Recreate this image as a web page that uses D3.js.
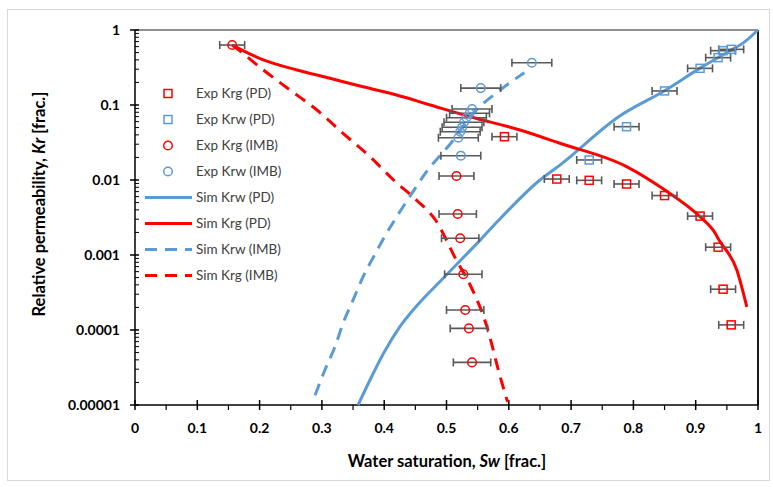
<!DOCTYPE html>
<html><head><meta charset="utf-8">
<script src="https://cdn.jsdelivr.net/npm/d3@7"></script>
<style>
body{margin:0;background:#fff;}
text{font-family:Lato,"Open Sans","Liberation Sans",sans-serif;}
</style></head>
<body>
<svg id="c" width="773" height="487"></svg>
<script>
// ---- data ----
const xTickValues = [0,0.1,0.2,0.3,0.4,0.5,0.6,0.7,0.8,0.9,1];
const xTickLabels = ["0","0.1","0.2","0.3","0.4","0.5","0.6","0.7","0.8","0.9","1"];
const yTickValues = [1,0.1,0.01,0.001,0.0001,0.00001];
const yTickLabels = ["1","0.1","0.01","0.001","0.0001","0.00001"];

const expKrgPD_sw = [0.593,0.677,0.729,0.789,0.850,0.907,0.936,0.944,0.957];
const expKrgPD_kr = [0.0378,0.0103,0.0099,0.00885,0.0062,0.0033,0.00127,0.00035,0.000117];
const expKrwPD_sw = [0.729,0.789,0.850,0.907,0.936,0.944,0.957];
const expKrwPD_kr = [0.0185,0.0514,0.154,0.308,0.428,0.53,0.552];
const expKrgIMB_sw = [0.156,0.516,0.518,0.522,0.527,0.530,0.536,0.541];
const expKrgIMB_kr = [0.63,0.0113,0.00352,0.00167,0.000553,0.000185,0.000105,0.000037];
const expKrgIMB_err = [0.02,0.028,0.03,0.03,0.03,0.03,0.03,0.03];
const expKrwIMB_sw = [0.523,0.519,0.522,0.525,0.528,0.532,0.537,0.541,0.555,0.637];
const expKrwIMB_kr = [0.0211,0.0366,0.044,0.0504,0.0588,0.0677,0.0775,0.0885,0.168,0.366];
const errPD = 0.02, errIMB = 0.032;

const simKrwPD_sw = [0.358,0.377,0.399,0.425,0.452,0.490,0.511,0.554,0.581,0.650,0.682,0.778,0.850,0.907,0.950,0.979,1.0];
const simKrwPD_kr = [1e-5,2.14e-5,4.9e-5,1.1e-4,2.09e-4,4.47e-4,6.76e-4,1.58e-3,2.75e-3,0.01,0.0158,0.0713,0.155,0.31,0.5,0.70,1.0];
const simKrgPD_sw = [0.156,0.206,0.260,0.313,0.366,0.420,0.474,0.538,0.618,0.682,0.789,0.850,0.907,0.928,0.939,0.966,0.982];
const simKrgPD_kr = [0.63,0.40,0.293,0.227,0.175,0.136,0.10,0.0698,0.0464,0.0309,0.0151,0.0074,0.00324,0.00214,0.00151,0.00063,0.000204];
const simKrwIMB_sw = [0.289,0.305,0.321,0.334,0.350,0.366,0.383,0.399,0.417,0.441,0.468,0.511,0.538,0.586,0.625];
const simKrwIMB_kr = [1.35e-5,2.95e-5,6.0e-5,1.23e-4,2.5e-4,5.1e-4,9.5e-4,1.66e-3,2.95e-3,6.0e-3,0.0129,0.0341,0.0698,0.158,0.27];
const simKrgIMB_sw = [0.156,0.163,0.206,0.249,0.292,0.334,0.377,0.415,0.452,0.482,0.516,0.538,0.565,0.586,0.598];
const simKrgIMB_kr = [0.63,0.57,0.293,0.158,0.0857,0.0419,0.0205,0.01,0.00537,0.00295,8.5e-4,3.98e-4,1.1e-4,2.4e-5,1.1e-5];

const legendLabels = ["Exp Krg (PD)","Exp Krw (PD)","Exp Krg (IMB)","Exp Krw (IMB)","Sim Krw (PD)","Sim Krg (PD)","Sim Krw (IMB)","Sim Krg (IMB)"];

// ---- chart ----
const RED = "#FF0000", BLUE = "#5B9BD5", ERR = "#595959", TXT = "#404040";
const svg = d3.select("#c");
const L = 135, R = 758, T = 30, B = 405;
const x = d3.scaleLinear().domain([0,1]).range([L,R]);
const y = d3.scaleLog().domain([1e-5,1]).range([B,T]);

// outer border
svg.append("rect").attr("x",7.5).attr("y",9.5).attr("width",762).attr("height",471)
  .attr("fill","#fff").attr("stroke","#d9d9d9").attr("stroke-width",1);

// plot frame top/right
svg.append("line").attr("x1",L).attr("x2",R).attr("y1",T).attr("y2",T).attr("stroke","#222").attr("stroke-width",1.2);
svg.append("line").attr("x1",R).attr("x2",R).attr("y1",T).attr("y2",B).attr("stroke","#000").attr("stroke-width",1.8);

// x axis
const gx = svg.append("g").attr("transform",`translate(0,${B})`);
gx.append("line").attr("x1",L).attr("x2",R).attr("stroke","#000").attr("stroke-width",1.5);
const xMinor = d3.range(0.05,1,0.1);
gx.selectAll(".xm").data(xMinor).join("line").attr("x1",d=>x(d)).attr("x2",d=>x(d)).attr("y1",0).attr("y2",5).attr("stroke","#000").attr("stroke-width",1.2);
gx.selectAll(".xM").data(xTickValues).join("line").attr("x1",d=>x(d)).attr("x2",d=>x(d)).attr("y1",-5).attr("y2",5).attr("stroke","#000").attr("stroke-width",1.5);
gx.selectAll(".xl").data(xTickValues).join("text").attr("x",d=>x(d)).attr("y",28)
  .attr("text-anchor","middle").attr("font-size",14).attr("font-weight","bold").attr("fill","#000")
  .text((d,i)=>xTickLabels[i]);

// y axis
const gy = svg.append("g");
gy.append("line").attr("x1",L).attr("x2",L).attr("y1",T).attr("y2",B).attr("stroke","#000").attr("stroke-width",1.5);
const yMinor = [];
for (let e=-5;e<0;e++) for (let k=2;k<=9;k++) yMinor.push(k*Math.pow(10,e));
gy.selectAll(".ym").data(yMinor).join("line").attr("x1",L).attr("x2",L+4).attr("y1",d=>y(d)).attr("y2",d=>y(d)).attr("stroke","#000").attr("stroke-width",1);
gy.selectAll(".yM").data(yTickValues).join("line").attr("x1",L-5).attr("x2",L+4).attr("y1",d=>y(d)).attr("y2",d=>y(d)).attr("stroke","#000").attr("stroke-width",1.5);
gy.selectAll(".yl").data(yTickValues).join("text").attr("x",L-15).attr("y",d=>y(d)+5)
  .attr("text-anchor","end").attr("font-size",14).attr("font-weight","bold").attr("fill","#000")
  .text((d,i)=>yTickLabels[i]);

// axis titles
const xt = svg.append("text").attr("x",447).attr("y",467).attr("text-anchor","middle")
  .attr("font-size",16.5).attr("font-weight","bold").attr("fill","#000");
xt.append("tspan").text("Water saturation, ");
xt.append("tspan").attr("font-style","italic").text("Sw");
xt.append("tspan").text(" [frac.]");
const yt = svg.append("text").attr("transform","translate(45,204) rotate(-90)").attr("text-anchor","middle")
  .attr("font-size",16.5).attr("font-weight","bold").attr("fill","#000");
yt.append("tspan").text("Relative permeability, ");
yt.append("tspan").attr("font-style","italic").text("Kr");
yt.append("tspan").text(" [frac.]");

// sim curves
const zip = (a,b)=>a.map((v,i)=>[v,b[i]]);
const line = d3.line().x(d=>x(d[0])).y(d=>y(d[1])).curve(d3.curveMonotoneX);
const curves = [
  {d:zip(simKrwPD_sw,simKrwPD_kr),c:BLUE,dash:null},
  {d:zip(simKrgPD_sw,simKrgPD_kr),c:RED,dash:null},
  {d:zip(simKrwIMB_sw,simKrwIMB_kr),c:BLUE,dash:"12,8"},
  {d:zip(simKrgIMB_sw,simKrgIMB_kr),c:RED,dash:"12,8"}
];
curves.forEach(cv=>{
  svg.append("path").attr("d",line(cv.d)).attr("fill","none").attr("stroke",cv.c)
    .attr("stroke-width",3).attr("stroke-dasharray",cv.dash).attr("stroke-linecap","butt");
});

// error bars + markers
function errbars(sw,kr,err){
  const g = svg.append("g").attr("stroke",ERR).attr("stroke-width",1.6).attr("fill","none");
  sw.forEach((s,i)=>{
    const e = Array.isArray(err)?err[i]:err;
    const yy = y(kr[i]), x0 = x(s-e), x1 = x(s+e);
    g.append("line").attr("x1",x0).attr("x2",x1).attr("y1",yy).attr("y2",yy);
    g.append("line").attr("x1",x0).attr("x2",x0).attr("y1",yy-4).attr("y2",yy+4);
    g.append("line").attr("x1",x1).attr("x2",x1).attr("y1",yy-4).attr("y2",yy+4);
  });
}
function squares(sw,kr,c){
  svg.append("g").selectAll("rect").data(zip(sw,kr)).join("rect")
    .attr("x",d=>x(d[0])-4).attr("y",d=>y(d[1])-4).attr("width",8).attr("height",8)
    .attr("fill","none").attr("stroke",c).attr("stroke-width",1.5);
}
function circles(sw,kr,c){
  svg.append("g").selectAll("circle").data(zip(sw,kr)).join("circle")
    .attr("cx",d=>x(d[0])).attr("cy",d=>y(d[1])).attr("r",4.3)
    .attr("fill","none").attr("stroke",c).attr("stroke-width",1.5);
}
errbars(expKrgPD_sw,expKrgPD_kr,errPD);
errbars(expKrwPD_sw,expKrwPD_kr,errPD);
errbars(expKrgIMB_sw,expKrgIMB_kr,expKrgIMB_err);
errbars(expKrwIMB_sw,expKrwIMB_kr,errIMB);
squares(expKrgPD_sw,expKrgPD_kr,RED);
squares(expKrwPD_sw,expKrwPD_kr,BLUE);
circles(expKrgIMB_sw,expKrgIMB_kr,RED);
circles(expKrwIMB_sw,expKrwIMB_kr,BLUE);

// legend
const lg = svg.append("g");
const rowY = i=>93.5+i*26;
legendLabels.forEach((lab,i)=>{
  const yy = rowY(i);
  if (i===0||i===1){
    lg.append("rect").attr("x",164).attr("y",yy-4).attr("width",8).attr("height",8)
      .attr("fill","none").attr("stroke",i===0?RED:BLUE).attr("stroke-width",1.5);
  } else if (i===2||i===3){
    lg.append("circle").attr("cx",168).attr("cy",yy).attr("r",4.3)
      .attr("fill","none").attr("stroke",i===2?RED:BLUE).attr("stroke-width",1.5);
  } else {
    const c = (i===4||i===6)?BLUE:RED;
    lg.append("line").attr("x1",145).attr("x2",192).attr("y1",yy).attr("y2",yy)
      .attr("stroke",c).attr("stroke-width",3).attr("stroke-dasharray",i>=6?"12,8":null);
  }
  lg.append("text").attr("x",196).attr("y",yy+4.5).attr("font-size",13.5).attr("fill",TXT).text(lab);
});
</script>
</body></html>
